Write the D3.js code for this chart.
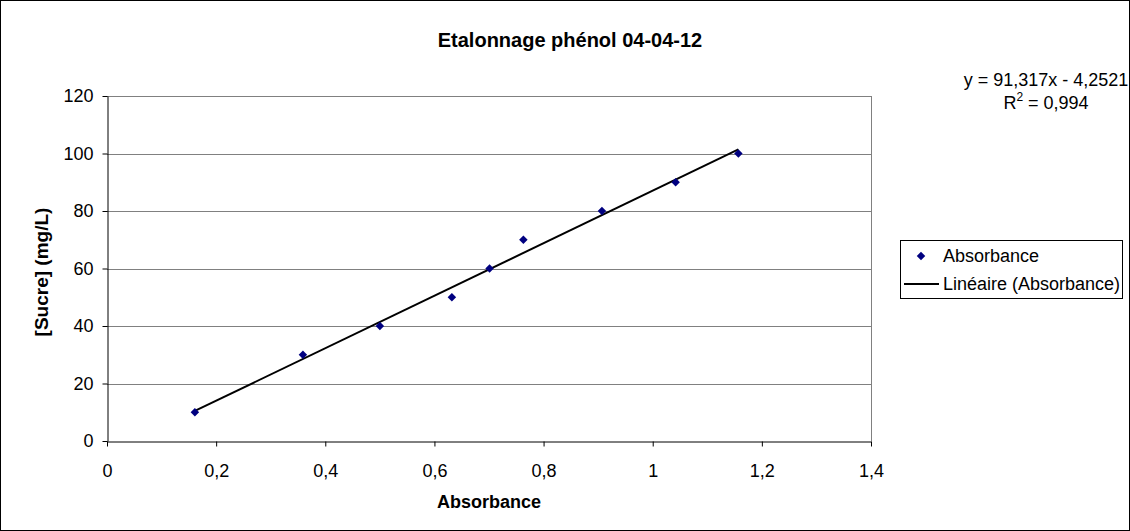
<!DOCTYPE html>
<html>
<head>
<meta charset="utf-8">
<script src="https://cdn.jsdelivr.net/npm/d3@7"></script>
<style>
  body { margin: 0; background: #fff; }
  svg { display: block; font-family: "Liberation Sans", Arial, sans-serif; }
</style>
</head>
<body>
<svg id="chart" width="1130" height="531"></svg>
<script>
  // data
  var absorbance = [0.161, 0.359, 0.500, 0.632, 0.701, 0.763, 0.907, 1.042, 1.157];
  var sucre = [10, 30, 40, 50, 60, 70, 80, 90, 100];
  var xTicks = [0, 0.2, 0.4, 0.6, 0.8, 1, 1.2, 1.4];
  var yTicks = [0, 20, 40, 60, 80, 100, 120];
  var slope = 91.317;
  var intercept = -4.2521;
  var eqText = 'y = 91,317x - 4,2521';
  var r2Text = ' = 0,994';

  var W = 1130, H = 531;
  var plotL = 107, plotR = 871, plotT = 96, plotB = 441;

  var svg = d3.select('#chart');

  svg.append('rect').attr('x', 0.5).attr('y', 0.5).attr('width', W - 1).attr('height', H - 1)
    .attr('fill', '#fff').attr('stroke', '#000');

  var x = d3.scaleLinear().domain([0, 1.4]).range([plotL, plotR]);
  var y = d3.scaleLinear().domain([0, 120]).range([plotB, plotT]);

  var fmt = function(d) { return String(d).replace('.', ','); };

  // gridlines
  svg.append('g').selectAll('line')
    .data(yTicks.slice(1))
    .enter()
    .append('line')
    .attr('x1', plotL).attr('x2', plotR)
    .attr('y1', function(d) { return Math.round(y(d)) + 0.5; })
    .attr('y2', function(d) { return Math.round(y(d)) + 0.5; })
    .attr('stroke', '#808080');

  // right border of plot area
  svg.append('line')
    .attr('x1', plotR + 0.5).attr('x2', plotR + 0.5)
    .attr('y1', plotT).attr('y2', plotB)
    .attr('stroke', '#808080');

  // axes
  var xAxis = svg.append('g')
    .attr('transform', 'translate(0,' + (plotB + 0.5) + ')')
    .call(d3.axisBottom(x).tickValues(xTicks).tickSize(5).tickSizeOuter(0).tickPadding(18).tickFormat(fmt));
  var yAxis = svg.append('g')
    .attr('transform', 'translate(' + (plotL + 0.5) + ',0)')
    .call(d3.axisLeft(y).tickValues(yTicks).tickSize(5).tickSizeOuter(0).tickPadding(9).tickFormat(fmt));

  [xAxis, yAxis].forEach(function(a) {
    a.select('.domain').attr('stroke', '#000');
    a.selectAll('.tick line').attr('stroke', '#000');
    a.selectAll('.tick text').attr('font-size', 18).attr('fill', '#000')
      .attr('font-family', '"Liberation Sans", Arial, sans-serif');
  });

  // trendline over the data range
  var xMin = d3.min(absorbance), xMax = d3.max(absorbance);
  svg.append('line')
    .attr('x1', x(xMin)).attr('y1', y(slope * xMin + intercept))
    .attr('x2', x(xMax)).attr('y2', y(slope * xMax + intercept))
    .attr('stroke', '#000').attr('stroke-width', 2);

  // points
  var diamond = d3.symbol().type(d3.symbolSquare).size(36);
  svg.append('g').selectAll('path')
    .data(absorbance)
    .enter()
    .append('path')
    .attr('d', diamond)
    .attr('transform', function(d, i) {
      return 'translate(' + x(d) + ',' + y(sucre[i]) + ') rotate(45)';
    })
    .attr('fill', '#000080');

  // titles
  svg.append('text').attr('x', 570).attr('y', 47).attr('text-anchor', 'middle')
    .attr('font-size', 20).attr('font-weight', 'bold').text('Etalonnage phénol 04-04-12');
  svg.append('text').attr('x', (plotL + plotR) / 2).attr('y', 508).attr('text-anchor', 'middle')
    .attr('font-size', 18).attr('font-weight', 'bold').text('Absorbance');
  svg.append('text').attr('transform', 'translate(48,272) rotate(-90)')
    .attr('text-anchor', 'middle').attr('font-size', 19).attr('font-weight', 'bold')
    .text('[Sucre] (mg/L)');

  // equation
  svg.append('text').attr('x', 1046).attr('y', 86).attr('text-anchor', 'middle')
    .attr('font-size', 18).text(eqText);
  var r2 = svg.append('text').attr('x', 1046).attr('y', 109).attr('text-anchor', 'middle')
    .attr('font-size', 18);
  r2.append('tspan').text('R');
  r2.append('tspan').attr('dy', -8).attr('font-size', 12).text('2');
  r2.append('tspan').attr('dy', 8).text(r2Text);

  // legend
  var lg = svg.append('g');
  lg.append('rect').attr('x', 900.5).attr('y', 240.5).attr('width', 222).attr('height', 58)
    .attr('fill', '#fff').attr('stroke', '#000');
  lg.append('path').attr('d', diamond)
    .attr('transform', 'translate(921,256) rotate(45)').attr('fill', '#000080');
  lg.append('text').attr('x', 943).attr('y', 262).attr('font-size', 18).text('Absorbance');
  lg.append('line').attr('x1', 904).attr('x2', 939).attr('y1', 284).attr('y2', 284)
    .attr('stroke', '#000').attr('stroke-width', 2);
  lg.append('text').attr('x', 943).attr('y', 290).attr('font-size', 18).text('Linéaire (Absorbance)');
</script>
</body>
</html>
